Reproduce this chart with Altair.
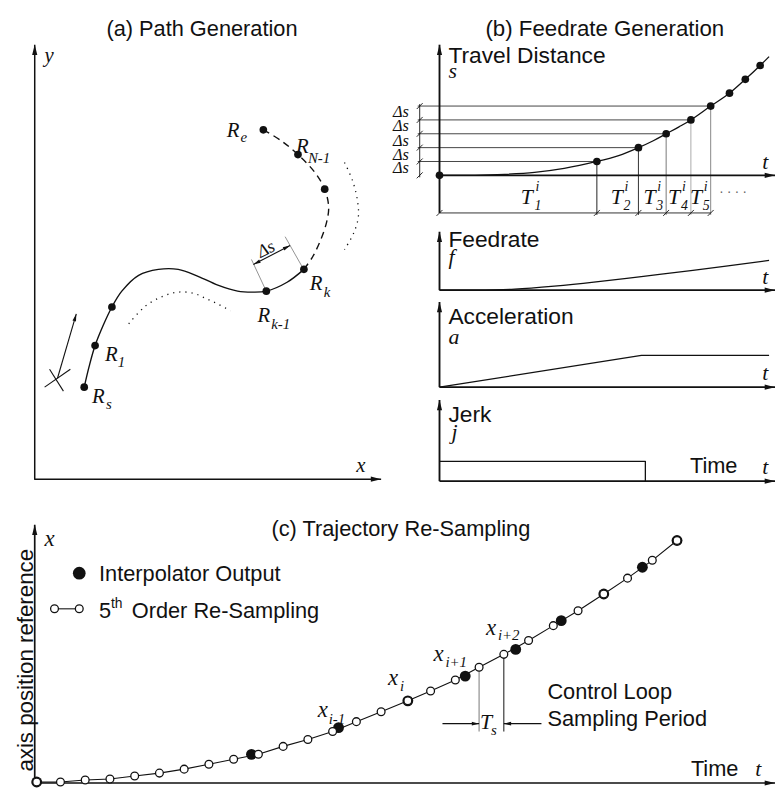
import math
import altair as alt
import pandas as pd

INK = "#111111"
SANS = "Liberation Sans"
SERIF = "Liberation Serif"

# ================= panel (a): path generation =================
a_axis = [(35, 41), (35, 480), (385, 480)]
a_path_solid = [(85, 387), (90, 366), (96, 345), (104, 325), (113, 306), (123, 290), (140, 274),
                (160, 268), (180, 268), (200, 275), (220, 284), (240, 290), (255, 291), (269, 290),
                (290, 281), (307, 268)]
a_path_dashed = [(307, 268), (316, 255), (324, 238), (330, 220), (332, 205), (328, 187),
                 (318, 170), (301, 152), (284, 138), (266, 127)]
a_dotted_right = [(348, 160), (356, 178), (361, 198), (362, 215), (357, 232), (348, 248)]
a_dotted_lower = [(130, 323), (147, 305), (165, 295), (180, 291), (195, 292), (207, 297),
                  (220, 303), (233, 310)]
a_points = [(85, 387), (96, 345), (113, 306), (269, 290), (307, 268), (328, 187), (301, 152), (266, 127)]
a_ext_lines = [[(268, 288), (254, 258)], [(305, 265), (288, 235)]]
a_ds_arrow = [(256, 263), (293, 244)]
a_cross = [[(45, 387), (71, 369)], [(50, 369), (64, 391)]]
a_dir_arrow = [(58, 378), (77, 313)]

# ================= panel (b): feedrate generation =================
b_axes_v = [[(444, 41), (444, 211)], [(444, 230), (444, 289)], [(444, 301), (444, 387)], [(444, 400), (444, 482)]]
b_axes_h = [[(444, 173), (783, 173)], [(444, 289), (783, 289)], [(444, 387), (783, 387)], [(444, 482), (783, 482)]]
b_s_curve = [(444, 173), (480, 173), (510, 172), (540, 170), (570, 166), (603, 159), (625, 153),
             (645, 145), (660, 138), (673, 131), (686, 124), (698, 117), (718, 103), (737, 90),
             (753, 76), (768, 62), (777, 53)]
b_s_points = [(444, 173), (603, 159), (645, 145), (673, 131), (698, 117), (718, 103), (737, 90), (753, 76), (768, 62)]
b_levels = [173, 159, 145, 131, 117, 103]
b_drop_x = [603, 645, 673, 698, 718]
b_drop_gray = ["#222222", "#333333", "#777777", "#aaaaaa", "#888888"]
b_dim_y = 211
b_brace_x = 424
b_ds_baselines = [171, 157, 143, 128, 114]
b_feed = [(444, 289), (480, 289), (520, 288), (560, 285), (600, 281), (650, 275), (700, 269), (777, 259)]
b_accel = [(444, 387), (648, 355), (777, 355)]
b_jerk = [(444, 462), (652, 462), (652, 482)]

# ================= panel (c): trajectory re-sampling =================
c_axis = [(35, 526), (35, 787), (783, 787)]
c_open_x = [37, 61, 86, 111, 136, 161, 186, 211, 236, 261, 286, 311, 336, 360, 385, 412, 435,
            460, 484, 509, 534, 559, 584, 610, 634, 659, 684]
c_open_y = [786, 786, 784, 783, 780, 777, 773, 768, 763, 758, 750, 743, 735, 725, 715, 704, 694,
            683, 670, 657, 643, 628, 613, 596, 580, 562, 542]
c_fill_x = [37, 254, 342, 412, 470, 521, 567, 610, 649, 684]
c_fill_y = [786, 758, 731, 704, 679, 652, 623, 596, 569, 542]
c_legend_line = [(55, 611), (80, 611)]
c_ts_gray = [(484, 673), (484, 735)]
c_ts_black = [(509, 660), (509, 735)]
c_ts_arrows = [[(447, 727), (484, 727)], [(547, 727), (509, 727)]]

# ================= texts =================
sans_left = [
    ("Travel Distance", 453, 59, 23), ("Feedrate", 453, 245, 23), ("Acceleration", 453, 323, 23),
    ("Jerk", 453, 422, 23), ("Time", 697, 474, 22),
    ("Interpolator Output", 100, 583, 22), ("5", 100, 620, 22), ("th", 112, 610, 14),
    ("Order Re-Sampling", 133, 620, 22),
    ("Control Loop", 553, 702, 22), ("Sampling Period", 553, 729, 22), ("Time", 698, 780, 22),
]
sans_center = [
    ("(a) Path Generation", 204, 32, 22), ("(b) Feedrate Generation", 611, 32, 22.5),
    ("(c) Trajectory Re-Sampling", 405, 537, 22),
]
sans_dots = [(". . . .", 727, 191, 14)]
sans_rot = [("axis position reference", 33, 663, 22.5, 270)]
serif_left = [
    ("y", 45, 58, 21), ("x", 360, 473, 21),
    ("R", 229, 134, 21), ("e", 243, 139, 15),
    ("R", 299, 150, 21), ("N-1", 311, 161, 15),
    ("R", 313, 289, 21), ("k", 327, 296, 15),
    ("R", 260, 321, 21), ("k-1", 274, 328, 15),
    ("R", 106, 361, 21), ("1", 119, 367, 15),
    ("R", 93, 403, 21), ("s", 107, 409, 15),
    ("s", 453, 75, 22), ("f", 453, 263, 22), ("a", 453, 343, 22), ("j", 456, 439, 22),
    ("t", 770, 167, 22), ("t", 770, 283, 22), ("t", 770, 380, 22), ("t", 770, 475, 22),
    ("T", 526, 202, 22), ("1", 540, 208, 14), ("i", 541, 189, 14),
    ("T", 617, 202, 22), ("2", 630, 208, 14), ("i", 631, 189, 14),
    ("T", 650, 202, 22), ("3", 663, 208, 14), ("i", 664, 189, 14),
    ("T", 675, 202, 22), ("4", 688, 208, 14), ("i", 689, 189, 14),
    ("T", 697, 202, 22), ("5", 710, 208, 14), ("i", 711, 189, 14),
    ("x", 45, 548, 23),
    ("x", 321, 720, 23), ("i-1", 332, 727, 15),
    ("x", 392, 688, 23), ("i", 404, 694, 15),
    ("x", 438, 664, 23), ("i+1", 450, 670, 15),
    ("x", 491, 637, 23), ("i+2", 503, 643, 15),
    ("T", 485, 732, 22), ("s", 496, 738, 15),
    ("t", 763, 780, 22),
] + [("Δs", 397, b, 16.5) for b in b_ds_baselines]
serif_rot = [("Δs", 269, 248, 18, 333)]

# ================= helpers =================
xs = alt.X("x:Q", scale=alt.Scale(domain=[8, 784], nice=False, zero=False), axis=None)
ys = alt.Y("y:Q", scale=alt.Scale(domain=[8, 792], nice=False, zero=False, reverse=True), axis=None)


def polylines(groups, width=1.2, color=INK, dash=None, interp="linear"):
    rows = []
    for gi, g in enumerate(groups):
        for pi, (x, y) in enumerate(g):
            rows.append({"g": gi, "i": pi, "x": x, "y": y})
    kw = dict(strokeWidth=width, stroke=color, interpolate=interp, strokeCap="butt", strokeJoin="round")
    if dash:
        kw["strokeDash"] = dash
    return alt.Chart(pd.DataFrame(rows)).mark_line(**kw).encode(
        x=xs, y=ys, detail="g:N", order="i:Q")


ARROW = "M0,0L0.55,2.2L-0.55,2.2Z"


def arrowheads(pairs, size):
    rows = []
    for (sx, sy), (tx, ty) in pairs:
        ang = math.degrees(math.atan2(tx - sx, -(ty - sy))) % 360
        rows.append({"x": tx, "y": ty, "a": ang})
    return alt.Chart(pd.DataFrame(rows)).mark_point(
        shape=ARROW, filled=True, fill=INK, strokeWidth=0, size=size, opacity=1
    ).encode(x=xs, y=ys, angle=alt.Angle("a:Q", scale=None))


def dots(xv, yv, size, open_=False, sw=1.3):
    df = pd.DataFrame({"x": xv, "y": yv})
    if open_:
        m = alt.Chart(df).mark_point(shape="circle", filled=True, fill="white", stroke=INK,
                                     strokeWidth=sw, size=size, opacity=1)
    else:
        m = alt.Chart(df).mark_point(shape="circle", filled=True, fill=INK, strokeWidth=0,
                                     size=size, opacity=1)
    return m.encode(x=xs, y=ys)


def texts(rows, font, style="normal", align="left", baseline="alphabetic", rotated=False, color=INK):
    cols = ["t", "x", "y", "s", "a"] if rotated else ["t", "x", "y", "s"]
    df = pd.DataFrame(rows, columns=cols)
    enc = dict(x=xs, y=ys, text="t:N", size=alt.Size("s:Q", scale=None))
    if rotated:
        enc["angle"] = alt.Angle("a:Q", scale=None)
    return alt.Chart(df).mark_text(font=font, fontStyle=style, align=align, baseline=baseline,
                                   color=color).encode(**enc)


# ================= build layers =================
layers = []
# panel (a)
layers.append(polylines([a_axis], width=1.5))
layers.append(polylines(a_ext_lines, width=0.8, color="#777777"))
layers.append(polylines([a_path_solid], width=1.4, interp="catmull-rom"))
layers.append(polylines([a_path_dashed], width=1.4, dash=[7, 5], interp="catmull-rom"))
layers.append(polylines([a_dotted_right, a_dotted_lower], width=1.3, dash=[1.2, 5], interp="catmull-rom"))
layers.append(polylines([a_ds_arrow, a_dir_arrow] + a_cross, width=1.1))
layers.append(dots([p[0] for p in a_points], [p[1] for p in a_points], 60))

# panel (b)
layers.append(polylines([[(422, y), (x, y)] for x, y in b_s_points[1:6]], width=1.0, color="#444444"))
for (x, y), col in zip(b_s_points[1:6], b_drop_gray):
    layers.append(polylines([[(x, y), (x, b_dim_y + 2)]], width=1.0, color=col))
layers.append(polylines([[(444, b_dim_y), (b_drop_x[-1], b_dim_y)]], width=1.0, color="#333333"))
layers.append(polylines([[(x - 3, b_dim_y + 3), (x + 3, b_dim_y - 3)] for x in [444] + b_drop_x], width=0.9))
layers.append(polylines([[(b_brace_x, b_levels[-1] - 2), (b_brace_x, b_levels[0] + 2)]], width=0.9))
layers.append(polylines([[(b_brace_x - 3, y + 3), (b_brace_x + 3, y - 3)] for y in b_levels], width=0.9))
layers.append(polylines(b_axes_v + b_axes_h, width=1.9))
layers.append(polylines([b_s_curve], width=1.3, interp="catmull-rom"))
layers.append(polylines([b_feed], width=1.3, interp="catmull-rom"))
layers.append(polylines([b_accel, b_jerk], width=1.3))
layers.append(dots([p[0] for p in b_s_points], [p[1] for p in b_s_points], 60))

# panel (c)
layers.append(polylines([c_axis], width=1.7))
layers.append(polylines([list(zip(c_open_x, c_open_y)), c_legend_line], width=1.1))
layers.append(polylines([c_ts_gray], width=1.0, color="#777777"))
layers.append(polylines([c_ts_black], width=1.0))
layers.append(polylines(c_ts_arrows, width=1.1))
layers.append(dots(c_fill_x, c_fill_y, 120))
layers.append(dots([80], [575], 165))
layers.append(dots(c_open_x + [55, 80], c_open_y + [611, 611], 62, open_=True))

# arrowheads
big_arrows = [
    ((35, 60), (35, 41)), ((34, 480), (385, 480)),
    ((444, 60), (444, 41)), ((444, 250), (444, 230)), ((444, 320), (444, 301)), ((444, 420), (444, 400)),
    ((700, 173), (783, 173)), ((700, 289), (783, 289)), ((700, 387), (783, 387)), ((700, 482), (783, 482)),
    ((35, 560), (35, 526)), ((700, 787), (783, 787)),
]
small_arrows = [
    (a_ds_arrow[1], a_ds_arrow[0]), (a_ds_arrow[0], a_ds_arrow[1]),
    (a_dir_arrow[0], a_dir_arrow[1]),
    (c_ts_arrows[0][0], c_ts_arrows[0][1]), (c_ts_arrows[1][0], c_ts_arrows[1][1]),
]
layers.append(arrowheads(big_arrows, 90))
layers.append(arrowheads(small_arrows, 45))

# texts
layers.append(texts(sans_left, SANS))
layers.append(texts(sans_center, SANS, align="center"))
layers.append(texts(sans_dots, SANS, color="#666666"))
layers.append(texts(sans_rot, SANS, align="center", rotated=True))
layers.append(texts(serif_left, SERIF, style="italic"))
layers.append(texts(serif_rot, SERIF, style="italic", align="center", baseline="middle", rotated=True))

chart = alt.layer(*layers).properties(
    width=776, height=784, padding=0, autosize="none", background="white"
).configure_view(stroke=None)

chart.save("out.html", embed_options={"renderer": "svg", "actions": False})
